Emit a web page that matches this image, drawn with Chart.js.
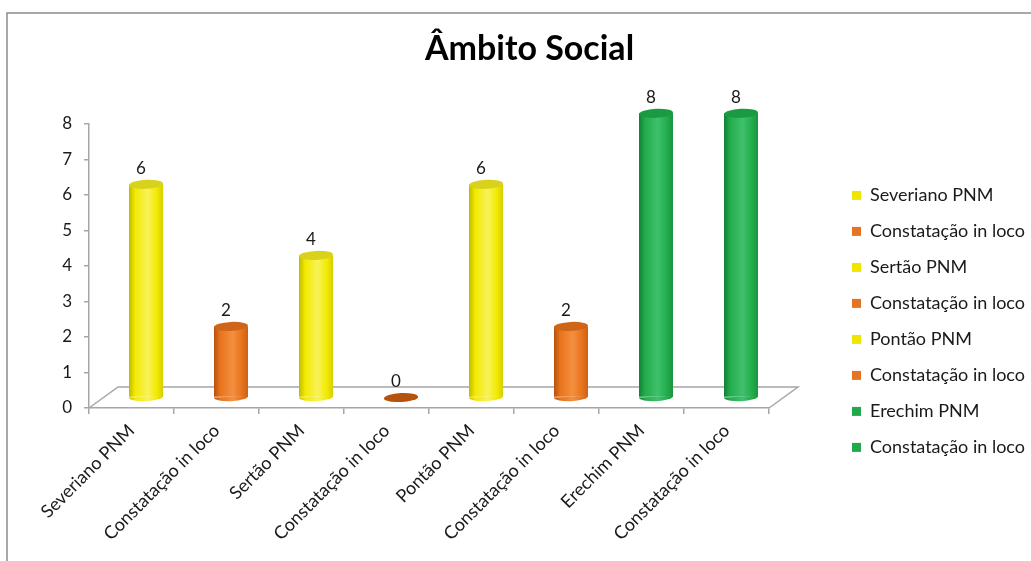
<!DOCTYPE html>
<html>
<head>
<meta charset="utf-8">
<title>Âmbito Social</title>
<script src="https://cdn.jsdelivr.net/npm/chart.js@4.4.1/dist/chart.umd.min.js"></script>
<style>
  html, body { margin: 0; padding: 0; background: #fff; }
  #wrap { width: 1031px; height: 561px; position: relative; }
</style>
</head>
<body>
<div id="wrap"><canvas id="chart" width="1031" height="561"></canvas></div>
<script>
// ---- data ----
const categories = [
  'Severiano PNM', 'Constatação in loco',
  'Sertão PNM', 'Constatação in loco',
  'Pontão PNM', 'Constatação in loco',
  'Erechim PNM', 'Constatação in loco'
];
const values = [6, 2, 4, 0, 6, 2, 8, 8];
const colorKeys = ['yellow', 'orange', 'yellow', 'orange', 'yellow', 'orange', 'green', 'green'];
const yTicks = [0, 1, 2, 3, 4, 5, 6, 7, 8];

// ---- styles ----
const palette = {
  yellow: { edge: '#c2b900', body: '#f2ea00', light: '#f8f25a', right: '#d6ce00', cap: '#d8d21c', legend: '#eee600' },
  orange: { edge: '#b4520e', body: '#e8731c', light: '#f29040', right: '#cc6214', cap: '#cf6519', legend: '#e47324' },
  green:  { edge: '#137f36', body: '#22ad4c', light: '#40c06c', right: '#1a953f', cap: '#1b9a44', legend: '#21a94b' }
};
const FONT = 'Lato, "DejaVu Sans", sans-serif';
const TEXT_COLOR = '#1a1a1a';
const DEPTH_X = 29, DEPTH_Y = -21;   // floor depth of the 3D plot
const CAP_RY = 4.5;                   // vertical radius of the cylinder ellipses

function cylinderGradient(ctx, cx, w, key) {
  const p = palette[key];
  const g = ctx.createLinearGradient(cx - w / 2, 0, cx + w / 2, 0);
  g.addColorStop(0, p.edge);
  g.addColorStop(0.18, p.body);
  g.addColorStop(0.55, p.light);
  g.addColorStop(0.82, p.body);
  g.addColorStop(1, p.right);
  return g;
}

function barFill(context) {
  const chart = context.chart;
  const xs = chart.scales.x;
  if (!xs || !chart.chartArea) return palette[colorKeys[context.dataIndex]].body;
  const cx = xs.getPixelForValue(context.dataIndex);
  const w = (xs.width / categories.length) * 0.4;
  return cylinderGradient(chart.ctx, cx, w, colorKeys[context.dataIndex]);
}

// Floor, frame, cylinder caps and value labels
const cylinderPlugin = {
  id: 'cylinder3d',
  beforeDraw(chart) {
    const ctx = chart.ctx;
    ctx.save();
    ctx.strokeStyle = '#8c8c8c';
    ctx.lineWidth = 1.5;
    ctx.beginPath();
    ctx.moveTo(7, chart.height);
    ctx.lineTo(7, 13);
    ctx.lineTo(chart.width, 13);
    ctx.stroke();
    ctx.restore();
  },
  beforeDatasetsDraw(chart) {
    const { ctx, scales: { x, y } } = chart;
    const y0 = y.getPixelForValue(0);
    ctx.save();
    ctx.strokeStyle = '#a6a6a6';
    ctx.lineWidth = 1.5;
    ctx.beginPath();
    ctx.moveTo(x.left, y0);
    ctx.lineTo(x.left + DEPTH_X, y0 + DEPTH_Y);
    ctx.lineTo(x.right + DEPTH_X, y0 + DEPTH_Y);
    ctx.lineTo(x.right, y0);
    ctx.stroke();
    ctx.restore();
    // the cylinders stand half way into the floor depth
    ctx.save();
    ctx.translate(DEPTH_X / 2, DEPTH_Y / 2);
    const meta = chart.getDatasetMeta(0);
    meta.data.forEach((bar, i) => {
      const key = colorKeys[i];
      ctx.save();
      ctx.fillStyle = cylinderGradient(ctx, bar.x, bar.width, key);
      ctx.beginPath();
      ctx.ellipse(bar.x, bar.base, bar.width / 2, CAP_RY, -0.05, 0, Math.PI);
      ctx.fill();
      ctx.restore();
    });
  },
  afterDatasetsDraw(chart) {
    const ctx = chart.ctx;
    const meta = chart.getDatasetMeta(0);
    meta.data.forEach((bar, i) => {
      const key = colorKeys[i];
      ctx.save();
      ctx.fillStyle = values[i] === 0 ? palette[key].edge : palette[key].cap;
      ctx.beginPath();
      ctx.ellipse(bar.x, bar.y, bar.width / 2, CAP_RY, -0.05, 0, Math.PI * 2);
      ctx.fill();
      ctx.restore();
    });
    ctx.restore();
    // value labels
    ctx.save();
    ctx.font = '17px ' + FONT;
    ctx.fillStyle = TEXT_COLOR;
    ctx.textAlign = 'center';
    ctx.textBaseline = 'middle';
    meta.data.forEach((bar, i) => {
      ctx.fillText(String(values[i]), bar.x + DEPTH_X / 2 - 5, bar.y + DEPTH_Y / 2 - 16);
    });
    ctx.restore();
  }
};

new Chart(document.getElementById('chart'), {
  type: 'bar',
  data: {
    labels: categories,
    datasets: [{
      data: values,
      backgroundColor: barFill,
      borderWidth: 0,
      barPercentage: 0.4,
      categoryPercentage: 1,
      clip: false
    }]
  },
  options: {
    responsive: false,
    animation: false,
    events: [],
    layout: { padding: { left: 24, right: -4, top: 0, bottom: 0 } },
    plugins: {
      title: {
        display: true,
        text: 'Âmbito Social',
        color: '#000',
        font: { family: FONT, size: 34, weight: 'bold' },
        padding: { top: 29, bottom: 54 }
      },
      legend: {
        position: 'right',
        align: 'start',
        maxWidth: 260,
        title: { display: true, text: '', font: { size: 12 }, padding: { top: 154, bottom: 0 } },
        labels: {
          boxWidth: 9,
          boxHeight: 9,
          padding: 18,
          color: TEXT_COLOR,
          font: { family: FONT, size: 18 },
          generateLabels: () => categories.map((t, i) => ({
            text: t,
            fillStyle: palette[colorKeys[i]].legend,
            strokeStyle: palette[colorKeys[i]].legend,
            fontColor: TEXT_COLOR,
            lineWidth: 0,
            hidden: false,
            index: i,
            datasetIndex: 0
          }))
        }
      },
      tooltip: { enabled: false }
    },
    scales: {
      x: {
        grid: { offset: true, drawOnChartArea: false, tickLength: 6, color: '#a6a6a6', lineWidth: 1.5 },
        border: { color: '#a6a6a6', width: 1.5 },
        ticks: { minRotation: 45, maxRotation: 45, padding: 6, color: TEXT_COLOR, font: { family: FONT, size: 18 } },
        afterFit(s) { s.height = 153; }
      },
      y: {
        min: yTicks[0],
        max: yTicks[yTicks.length - 1],
        afterBuildTicks(s) { s.ticks = yTicks.map(v => ({ value: v })); },
        grid: { drawOnChartArea: false, tickLength: 5, color: '#a6a6a6', lineWidth: 1.5 },
        border: { color: '#a6a6a6', width: 1.5 },
        ticks: { padding: 12, color: TEXT_COLOR, font: { family: FONT, size: 17 } },
        afterFit(s) { s.width = 65; }
      },
      depth: {
        type: 'linear',
        position: 'right',
        display: true,
        grid: { display: false },
        border: { display: false },
        ticks: { display: false },
        afterFit(s) { s.width = 65; }
      }
    }
  },
  plugins: [cylinderPlugin]
});
</script>
</body>
</html>
